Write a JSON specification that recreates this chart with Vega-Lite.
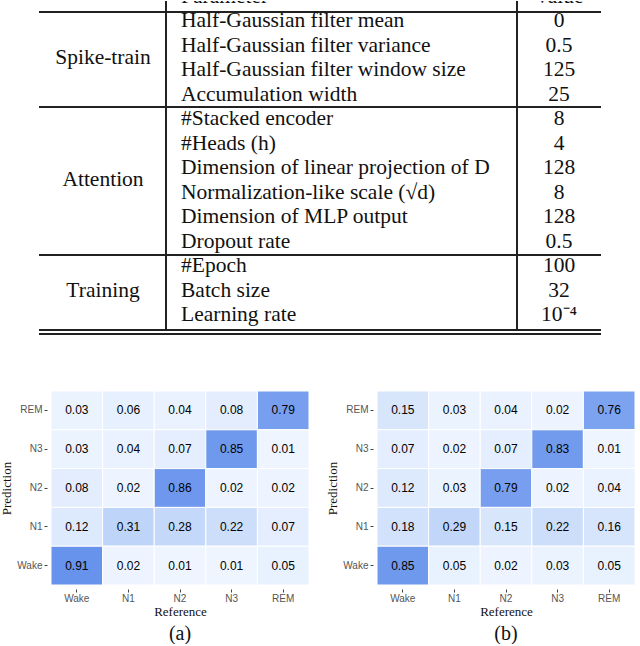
{
  "$schema": "https://vega.github.io/schema/vega-lite/v6.json",
  "padding": 0,
  "background": "white",
  "spacing": 49,
  "config": {
    "view": {"stroke": null},
    "axis": {
      "domain": false,
      "grid": false,
      "labelFont": "Liberation Sans",
      "labelFontSize": 10,
      "labelColor": "#555555",
      "tickColor": "#444444",
      "tickSize": 3,
      "labelPadding": 2,
      "offset": 4,
      "titleFont": "Liberation Serif",
      "titleFontSize": 13,
      "titleFontWeight": "normal",
      "titleColor": "#111111"
    }
  },
  "datasets": {
    "table": [
      {"row": 0, "group": null, "param": "Parameter", "value": "Value"},
      {"row": 1, "group": "Spike-train", "param": "Half-Gaussian filter mean", "value": "0"},
      {"row": 2, "group": "Spike-train", "param": "Half-Gaussian filter variance", "value": "0.5"},
      {"row": 3, "group": "Spike-train", "param": "Half-Gaussian filter window size", "value": "125"},
      {"row": 4, "group": "Spike-train", "param": "Accumulation width", "value": "25"},
      {"row": 5, "group": "Attention", "param": "#Stacked encoder", "value": "8"},
      {"row": 6, "group": "Attention", "param": "#Heads (h)", "value": "4"},
      {"row": 7, "group": "Attention", "param": "Dimension of linear projection of D", "value": "128"},
      {"row": 8, "group": "Attention", "param": "Normalization-like scale (√d)", "value": "8"},
      {"row": 9, "group": "Attention", "param": "Dimension of MLP output", "value": "128"},
      {"row": 10, "group": "Attention", "param": "Dropout rate", "value": "0.5"},
      {"row": 11, "group": "Training", "param": "#Epoch", "value": "100"},
      {"row": 12, "group": "Training", "param": "Batch size", "value": "32"},
      {"row": 13, "group": "Training", "param": "Learning rate", "value": "10⁻⁴"}
    ],
    "cm": [
      {"panel": "a", "pred": "REM", "ref": "Wake", "value": 0.03},
      {"panel": "a", "pred": "REM", "ref": "N1", "value": 0.06},
      {"panel": "a", "pred": "REM", "ref": "N2", "value": 0.04},
      {"panel": "a", "pred": "REM", "ref": "N3", "value": 0.08},
      {"panel": "a", "pred": "REM", "ref": "REM", "value": 0.79},
      {"panel": "a", "pred": "N3", "ref": "Wake", "value": 0.03},
      {"panel": "a", "pred": "N3", "ref": "N1", "value": 0.04},
      {"panel": "a", "pred": "N3", "ref": "N2", "value": 0.07},
      {"panel": "a", "pred": "N3", "ref": "N3", "value": 0.85},
      {"panel": "a", "pred": "N3", "ref": "REM", "value": 0.01},
      {"panel": "a", "pred": "N2", "ref": "Wake", "value": 0.08},
      {"panel": "a", "pred": "N2", "ref": "N1", "value": 0.02},
      {"panel": "a", "pred": "N2", "ref": "N2", "value": 0.86},
      {"panel": "a", "pred": "N2", "ref": "N3", "value": 0.02},
      {"panel": "a", "pred": "N2", "ref": "REM", "value": 0.02},
      {"panel": "a", "pred": "N1", "ref": "Wake", "value": 0.12},
      {"panel": "a", "pred": "N1", "ref": "N1", "value": 0.31},
      {"panel": "a", "pred": "N1", "ref": "N2", "value": 0.28},
      {"panel": "a", "pred": "N1", "ref": "N3", "value": 0.22},
      {"panel": "a", "pred": "N1", "ref": "REM", "value": 0.07},
      {"panel": "a", "pred": "Wake", "ref": "Wake", "value": 0.91},
      {"panel": "a", "pred": "Wake", "ref": "N1", "value": 0.02},
      {"panel": "a", "pred": "Wake", "ref": "N2", "value": 0.01},
      {"panel": "a", "pred": "Wake", "ref": "N3", "value": 0.01},
      {"panel": "a", "pred": "Wake", "ref": "REM", "value": 0.05},
      {"panel": "b", "pred": "REM", "ref": "Wake", "value": 0.15},
      {"panel": "b", "pred": "REM", "ref": "N1", "value": 0.03},
      {"panel": "b", "pred": "REM", "ref": "N2", "value": 0.04},
      {"panel": "b", "pred": "REM", "ref": "N3", "value": 0.02},
      {"panel": "b", "pred": "REM", "ref": "REM", "value": 0.76},
      {"panel": "b", "pred": "N3", "ref": "Wake", "value": 0.07},
      {"panel": "b", "pred": "N3", "ref": "N1", "value": 0.02},
      {"panel": "b", "pred": "N3", "ref": "N2", "value": 0.07},
      {"panel": "b", "pred": "N3", "ref": "N3", "value": 0.83},
      {"panel": "b", "pred": "N3", "ref": "REM", "value": 0.01},
      {"panel": "b", "pred": "N2", "ref": "Wake", "value": 0.12},
      {"panel": "b", "pred": "N2", "ref": "N1", "value": 0.03},
      {"panel": "b", "pred": "N2", "ref": "N2", "value": 0.79},
      {"panel": "b", "pred": "N2", "ref": "N3", "value": 0.02},
      {"panel": "b", "pred": "N2", "ref": "REM", "value": 0.04},
      {"panel": "b", "pred": "N1", "ref": "Wake", "value": 0.18},
      {"panel": "b", "pred": "N1", "ref": "N1", "value": 0.29},
      {"panel": "b", "pred": "N1", "ref": "N2", "value": 0.15},
      {"panel": "b", "pred": "N1", "ref": "N3", "value": 0.22},
      {"panel": "b", "pred": "N1", "ref": "REM", "value": 0.16},
      {"panel": "b", "pred": "Wake", "ref": "Wake", "value": 0.85},
      {"panel": "b", "pred": "Wake", "ref": "N1", "value": 0.05},
      {"panel": "b", "pred": "Wake", "ref": "N2", "value": 0.02},
      {"panel": "b", "pred": "Wake", "ref": "N3", "value": 0.03},
      {"panel": "b", "pred": "Wake", "ref": "REM", "value": 0.05}
    ]
  },
  "vconcat": [
    {
      "width": 588,
      "height": 340,
      "data": {"name": "table"},
      "encoding": {
        "y": {"field": "row", "type": "quantitative", "scale": {"domain": [0.18, 14.06], "reverse": true, "nice": false, "zero": false}, "axis": null}
      },
      "layer": [
        {
          "mark": {"type": "rule", "color": "#222222", "strokeWidth": 1.3},
          "encoding": {
            "x": {"datum": 40, "type": "quantitative", "scale": {"domain": [52, 640], "nice": false, "zero": false}, "axis": null},
            "x2": {"datum": 602},
            "y": {"datum": 0.63}
          }
        },
        {
          "mark": {"type": "rule", "color": "#222222", "strokeWidth": 1.3},
          "encoding": {"x": {"datum": 40, "type": "quantitative"}, "x2": {"datum": 602}, "y": {"datum": 4.51}}
        },
        {
          "mark": {"type": "rule", "color": "#222222", "strokeWidth": 1.3},
          "encoding": {"x": {"datum": 40, "type": "quantitative"}, "x2": {"datum": 602}, "y": {"datum": 10.55}}
        },
        {
          "mark": {"type": "rule", "color": "#222222", "strokeWidth": 1.3},
          "encoding": {"x": {"datum": 40, "type": "quantitative"}, "x2": {"datum": 602}, "y": {"datum": 13.61}}
        },
        {
          "mark": {"type": "rule", "color": "#222222", "strokeWidth": 1.3},
          "encoding": {"x": {"datum": 40, "type": "quantitative"}, "x2": {"datum": 602}, "y": {"datum": 13.78}}
        },
        {
          "mark": {"type": "rule", "color": "#222222", "strokeWidth": 1.3},
          "encoding": {"x": {"datum": 167, "type": "quantitative"}, "y": {"datum": 0.18}, "y2": {"datum": 13.61}}
        },
        {
          "mark": {"type": "rule", "color": "#222222", "strokeWidth": 1.3},
          "encoding": {"x": {"datum": 518, "type": "quantitative"}, "y": {"datum": 0.18}, "y2": {"datum": 13.61}}
        },
        {
          "mark": {"type": "text", "clip": true, "align": "left", "baseline": "middle", "font": "Liberation Serif", "fontSize": 21.5, "color": "#111111"},
          "encoding": {
            "x": {"datum": 182, "type": "quantitative"},
            "text": {"field": "param"}
          }
        },
        {
          "mark": {"type": "text", "clip": true, "align": "center", "baseline": "middle", "font": "Liberation Serif", "fontSize": 21.5, "color": "#111111"},
          "encoding": {
            "x": {"datum": 560, "type": "quantitative"},
            "text": {"field": "value"}
          }
        },
        {
          "transform": [
            {"filter": "datum.group != null"},
            {"aggregate": [{"op": "mean", "field": "row", "as": "row"}], "groupby": ["group"]}
          ],
          "mark": {"type": "text", "clip": true, "align": "center", "baseline": "middle", "font": "Liberation Serif", "fontSize": 21.5, "color": "#111111"},
          "encoding": {
            "x": {"datum": 104, "type": "quantitative"},
            "text": {"field": "group"}
          }
        }
      ]
    },
    {
      "spacing": 16,
      "hconcat": [
        {
          "width": 258,
          "height": 194,
          "data": {"name": "cm"},
          "transform": [{"filter": "datum.panel == 'a'"}],
          "title": {"text": "(a)", "orient": "bottom", "font": "Liberation Serif", "fontSize": 20, "fontWeight": "normal", "color": "#111111", "offset": 6},
          "encoding": {
            "x": {"field": "ref", "type": "nominal", "sort": ["Wake", "N1", "N2", "N3", "REM"], "title": "Reference", "axis": {"labelAngle": 0, "labelPadding": 1, "titlePadding": 2}},
            "y": {"field": "pred", "type": "nominal", "sort": ["REM", "N3", "N2", "N1", "Wake"], "title": "Prediction", "axis": {"titlePadding": 3}}
          },
          "layer": [
            {
              "mark": {"type": "rect", "stroke": "white", "strokeWidth": 1},
              "encoding": {
                "color": {"field": "value", "type": "quantitative", "scale": {"domain": [0, 0.9], "range": ["#F0F6FF", "#6893EC"], "clamp": true}, "legend": null}
              }
            },
            {
              "mark": {"type": "text", "font": "Liberation Sans", "fontSize": 12, "color": "#000000"},
              "encoding": {"text": {"field": "value", "type": "quantitative", "format": ".2f"}}
            }
          ]
        },
        {
          "width": 258,
          "height": 194,
          "data": {"name": "cm"},
          "transform": [{"filter": "datum.panel == 'b'"}],
          "title": {"text": "(b)", "orient": "bottom", "font": "Liberation Serif", "fontSize": 20, "fontWeight": "normal", "color": "#111111", "offset": 6},
          "encoding": {
            "x": {"field": "ref", "type": "nominal", "sort": ["Wake", "N1", "N2", "N3", "REM"], "title": "Reference", "axis": {"labelAngle": 0, "labelPadding": 1, "titlePadding": 2}},
            "y": {"field": "pred", "type": "nominal", "sort": ["REM", "N3", "N2", "N1", "Wake"], "title": "Prediction", "axis": {"titlePadding": 3}}
          },
          "layer": [
            {
              "mark": {"type": "rect", "stroke": "white", "strokeWidth": 1},
              "encoding": {
                "color": {"field": "value", "type": "quantitative", "scale": {"domain": [0, 0.9], "range": ["#F0F6FF", "#6893EC"], "clamp": true}, "legend": null}
              }
            },
            {
              "mark": {"type": "text", "font": "Liberation Sans", "fontSize": 12, "color": "#000000"},
              "encoding": {"text": {"field": "value", "type": "quantitative", "format": ".2f"}}
            }
          ]
        }
      ]
    }
  ]
}
